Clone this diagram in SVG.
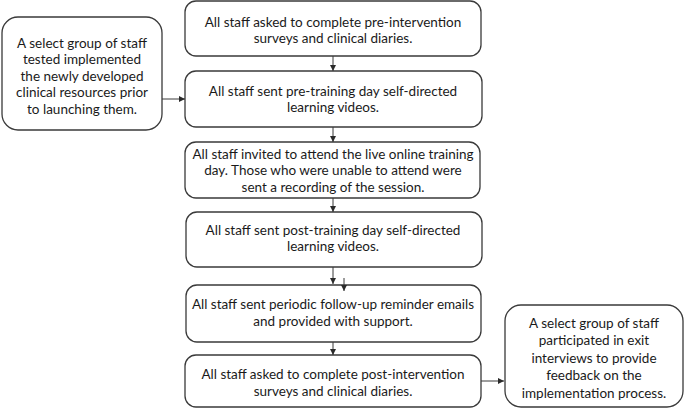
<svg xmlns="http://www.w3.org/2000/svg" width="685" height="410" viewBox="0 0 685 410">
<defs>
<style>
.box{fill:#fff;stroke:#3a3a3a;stroke-width:1.3}
.t{font-family:Lato,"Liberation Sans",sans-serif;font-size:13.5px;fill:#1a1a1a;text-anchor:middle}
.c{stroke:#3a3a3a;stroke-width:1;fill:none;marker-end:url(#ah)}
</style>
<marker id="ah" viewBox="0 0 6 6" refX="6" refY="3" markerWidth="6" markerHeight="6" orient="auto" markerUnits="userSpaceOnUse">
<path d="M0,0 L6,3 L0,6 z" fill="#2a2a2a"/>
</marker>
</defs>
<rect width="685" height="410" fill="#fff"/>
<g id="n1">
<rect class="box" x="185" y="1" width="296" height="55" rx="11"/>
<text class="t" x="333" y="26.5">All staff asked to complete pre-intervention</text>
<text class="t" x="333" y="43">surveys and clinical diaries.</text>
</g>
<g id="n2">
<rect class="box" x="185" y="71" width="297" height="56" rx="11"/>
<text class="t" x="333" y="95.5">All staff sent pre-training day self-directed</text>
<text class="t" x="333" y="112">learning videos.</text>
</g>
<g id="n0">
<rect class="box" x="2" y="17" width="160" height="113" rx="16"/>
<text class="t" x="82" y="47.5">A select group of staff</text>
<text class="t" x="82" y="64">tested implemented</text>
<text class="t" x="82" y="80.5">the newly developed</text>
<text class="t" x="82" y="97">clinical resources prior</text>
<text class="t" x="82" y="113.5">to launching them.</text>
</g>
<g id="n3">
<rect class="box" x="185" y="142" width="295" height="56" rx="11"/>
<text class="t" x="333" y="158.5">All staff invited to attend the live online training</text>
<text class="t" x="333" y="175">day. Those who were unable to attend were</text>
<text class="t" x="333" y="191.5">sent a recording of the session.</text>
</g>
<g id="n4">
<rect class="box" x="186" y="212" width="296" height="55" rx="11"/>
<text class="t" x="333" y="234.5">All staff sent post-training day self-directed</text>
<text class="t" x="333" y="251">learning videos.</text>
</g>
<g id="n5">
<rect class="box" x="186" y="285" width="295" height="57" rx="11"/>
<text class="t" x="333" y="308.5">All staff sent periodic follow-up reminder emails</text>
<text class="t" x="333" y="325.5">and provided with support.</text>
</g>
<g id="n6">
<rect class="box" x="185" y="355" width="296" height="52" rx="11"/>
<text class="t" x="333" y="378.5">All staff asked to complete post-intervention</text>
<text class="t" x="333" y="395.5">surveys and clinical diaries.</text>
</g>
<g id="n7">
<rect class="box" x="505" y="305" width="178" height="102" rx="16"/>
<text class="t" x="594" y="327.5">A select group of staff</text>
<text class="t" x="594" y="345">participated in exit</text>
<text class="t" x="594" y="362.5">interviews to provide</text>
<text class="t" x="594" y="380">feedback on the</text>
<text class="t" x="594" y="397.5">implementation process.</text>
</g>
<g id="connectors">
<line class="c" x1="333" y1="56" x2="333" y2="71"/>
<line class="c" x1="162" y1="99" x2="185" y2="99"/>
<line class="c" x1="333" y1="127" x2="333" y2="142"/>
<line class="c" x1="333" y1="198" x2="333" y2="212"/>
<line class="c" x1="333" y1="267" x2="333" y2="284"/>
<line class="c" x1="344" y1="278" x2="344" y2="291"/>
<line class="c" x1="333" y1="342" x2="333" y2="355"/>
<line class="c" x1="481" y1="381" x2="504" y2="381"/>
</g>
</svg>
